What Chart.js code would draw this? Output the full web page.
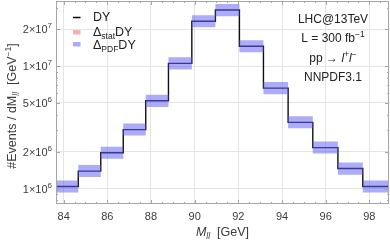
<!DOCTYPE html>
<html>
<head>
<meta charset="utf-8">
<script src="https://cdn.jsdelivr.net/npm/chart.js"></script>
<style>
  body { margin: 0; background: #fff; }
  canvas { display: block; }
</style>
</head>
<body>
<canvas id="chart" width="390" height="242"></canvas>
<script>
// Bin edges (GeV) and values
const binEdges = [83.5, 84.67, 85.70, 86.73, 87.76, 88.80, 89.87, 90.95, 92.05, 93.15, 94.28, 95.41, 96.56, 97.70, 99.2];
const dyValues = [1.04e6, 1.39e6, 1.96e6, 3.03e6, 5.2e6, 1.05e7, 2.32e7, 2.86e7, 1.45e7, 6.6e6, 3.47e6, 2.16e6, 1.46e6, 1.04e6];
const pdfHigh = [1.165e6, 1.557e6, 2.195e6, 3.39e6, 5.82e6, 1.176e7, 2.6e7, 3.2e7, 1.624e7, 7.39e6, 3.89e6, 2.42e6, 1.635e6, 1.165e6];
const pdfLow = [0.929e6, 1.241e6, 1.75e6, 2.705e6, 4.64e6, 9.38e6, 2.07e7, 2.55e7, 1.295e7, 5.89e6, 3.10e6, 1.93e6, 1.30e6, 0.929e6];

const xTicks = [84, 86, 88, 90, 92, 94, 96, 98];
const yTicks = [1e6, 2e6, 5e6, 1e7, 2e7];
const yTickLabels = [['1', '6'], ['2', '6'], ['5', '6'], ['1', '7'], ['2', '7']];
const yMinorTicks = [8e5, 9e5, 3e6, 4e6, 6e6, 7e6, 8e6, 9e6, 3e7];
const infoLines = ['LHC@13TeV', 'L = 300 fb', 'pp \u2192 ', 'NNPDF3.1'];

const FONT = '"Liberation Sans", Arial, sans-serif';
const BAND_COLOR = 'rgba(95, 95, 245, 0.52)';
const STAT_COLOR = 'rgba(245, 95, 95, 0.5)';

// step points: value i holds from edge i to edge i+1
const stepPoints = (vals) => binEdges.map((e, i) => ({ x: e, y: vals[Math.min(i, vals.length - 1)] }));

// draw a run of text pieces (size, vertical shift, italic) starting at x
const drawRich = (ctx, parts, x, y, align) => {
    const widths = parts.map(p => {
        ctx.font = `${p.italic ? 'italic ' : ''}${p.size}px ${FONT}`;
        return ctx.measureText(p.t).width + (p.gap || 0);
    });
    const total = widths.reduce((a, b) => a + b, 0);
    let cx = align === 'center' ? x - total / 2 : align === 'right' ? x - total : x;
    ctx.textAlign = 'left';
    ctx.textBaseline = 'alphabetic';
    parts.forEach((p, i) => {
        ctx.font = `${p.italic ? 'italic ' : ''}${p.size}px ${FONT}`;
        ctx.fillText(p.t, cx, y + (p.dy || 0));
        cx += widths[i];
    });
};

const decorations = {
    id: 'decorations',
    afterDraw(chart) {
        const { ctx, chartArea: a, scales: { x, y } } = chart;
        ctx.save();

        // frame
        ctx.strokeStyle = '#a6a6a6';
        ctx.lineWidth = 1;
        ctx.strokeRect(a.left + 0.5, a.top + 0.5, a.right - a.left - 1, a.bottom - a.top - 1);

        // ticks on all four sides
        const tickX = (v, len) => {
            const px = Math.round(x.getPixelForValue(v)) + 0.5;
            ctx.beginPath();
            ctx.moveTo(px, a.bottom); ctx.lineTo(px, a.bottom - len);
            ctx.moveTo(px, a.top); ctx.lineTo(px, a.top + len);
            ctx.stroke();
        };
        const tickY = (v, len) => {
            const py = Math.round(y.getPixelForValue(v)) + 0.5;
            ctx.beginPath();
            ctx.moveTo(a.left, py); ctx.lineTo(a.left + len, py);
            ctx.moveTo(a.right, py); ctx.lineTo(a.right - len, py);
            ctx.stroke();
        };
        for (let v = 84; v <= 98.5; v += 0.5) tickX(v, Number.isInteger(v / 2) ? 4 : 2);
        yTicks.forEach(v => tickY(v, 4));
        yMinorTicks.forEach(v => tickY(v, 2));

        // y tick labels with exponents
        ctx.fillStyle = '#3c3c3c';
        yTicks.forEach((v, i) => {
            const py = y.getPixelForValue(v) + 4;
            drawRich(ctx, [
                { t: yTickLabels[i][0] + '\u00d710', size: 11 },
                { t: yTickLabels[i][1], size: 8, dy: -5 }
            ], a.left - 4, py, 'right');
        });

        // axis titles
        ctx.fillStyle = '#3c3c3c';
        drawRich(ctx, [
            { t: 'M', size: 12.5, italic: true },
            { t: 'll', size: 8.5, italic: true, dy: 3, gap: 7 },
            { t: '[GeV]', size: 12.5 }
        ], (a.left + a.right) / 2, 236, 'center');

        ctx.save();
        ctx.translate(16, 106);
        ctx.rotate(-Math.PI / 2);
        drawRich(ctx, [
            { t: '#Events / dM', size: 12.5 },
            { t: 'll', size: 8.5, italic: true, dy: 3, gap: 7 },
            { t: '[GeV', size: 12.5 },
            { t: '\u22121', size: 8.5, dy: -5 },
            { t: ']', size: 12.5 }
        ], 0, 0, 'center');
        ctx.restore();

        // legend
        ctx.fillStyle = '#222';
        ctx.strokeStyle = '#000';
        ctx.lineWidth = 1.5;
        ctx.beginPath(); ctx.moveTo(73, 17.5); ctx.lineTo(80.5, 17.5); ctx.stroke();
        drawRich(ctx, [{ t: 'DY', size: 12.5 }], 93, 21, 'left');
        ctx.fillStyle = STAT_COLOR;
        ctx.fillRect(73, 30, 7.5, 4.5);
        ctx.fillStyle = BAND_COLOR;
        ctx.fillRect(73, 42, 7.5, 4.5);
        ctx.fillStyle = '#222';
        drawRich(ctx, [
            { t: '\u0394', size: 12.5 }, { t: 'stat', size: 8.5, dy: 3 }, { t: 'DY', size: 12.5 }
        ], 93, 36, 'left');
        drawRich(ctx, [
            { t: '\u0394', size: 12.5 }, { t: 'PDF', size: 8.5, dy: 3 }, { t: 'DY', size: 12.5 }
        ], 93, 49, 'left');

        // info block
        const cx = 333;
        drawRich(ctx, [{ t: infoLines[0], size: 12 }], cx, 23, 'center');
        drawRich(ctx, [{ t: infoLines[1], size: 12 }, { t: '\u22121', size: 8.5, dy: -5 }], cx, 42, 'center');
        drawRich(ctx, [
            { t: infoLines[2], size: 12 },
            { t: 'l', size: 12, italic: true }, { t: '+', size: 8.5, dy: -5 },
            { t: 'l', size: 12, italic: true }, { t: '\u2212', size: 8.5, dy: -5 }
        ], cx, 61.5, 'center');
        drawRich(ctx, [{ t: infoLines[3], size: 12 }], cx, 81, 'center');

        ctx.restore();
    }
};

new Chart(document.getElementById('chart'), {
    type: 'line',
    data: {
        datasets: [
            {
                label: 'pdfLow',
                data: stepPoints(pdfLow),
                stepped: true,
                borderColor: 'transparent',
                pointRadius: 0,
                fill: false
            },
            {
                label: 'pdfHigh',
                data: stepPoints(pdfHigh),
                stepped: true,
                borderColor: 'transparent',
                backgroundColor: BAND_COLOR,
                pointRadius: 0,
                fill: '-1'
            },
            {
                label: 'DY',
                data: stepPoints(dyValues),
                stepped: true,
                borderColor: '#111',
                borderWidth: 1.4,
                pointRadius: 0,
                fill: false
            }
        ]
    },
    options: {
        responsive: false,
        animation: false,
        devicePixelRatio: 1,
        layout: { padding: { top: 1, right: 1, left: 0, bottom: 0 } },
        plugins: { legend: { display: false }, tooltip: { enabled: false } },
        scales: {
            x: {
                type: 'linear',
                min: 83.65,
                max: 98.9,
                afterBuildTicks: (scale) => { scale.ticks = xTicks.map(v => ({ value: v })); },
                afterFit: (scale) => { scale.height = 38; },
                grid: { color: '#e4e4e4', drawTicks: false },
                border: { display: false },
                ticks: {
                    padding: 6,
                    color: '#3c3c3c',
                    font: { family: FONT, size: 11 },
                    maxRotation: 0
                }
            },
            y: {
                type: 'logarithmic',
                min: 7.49e5,
                max: 3.39e7,
                afterBuildTicks: (scale) => { scale.ticks = yTicks.map(v => ({ value: v })); },
                afterFit: (scale) => { scale.width = 56; },
                grid: { color: '#e4e4e4', drawTicks: false },
                border: { display: false },
                ticks: { display: false }
            }
        }
    },
    plugins: [decorations]
});
</script>
</body>
</html>
